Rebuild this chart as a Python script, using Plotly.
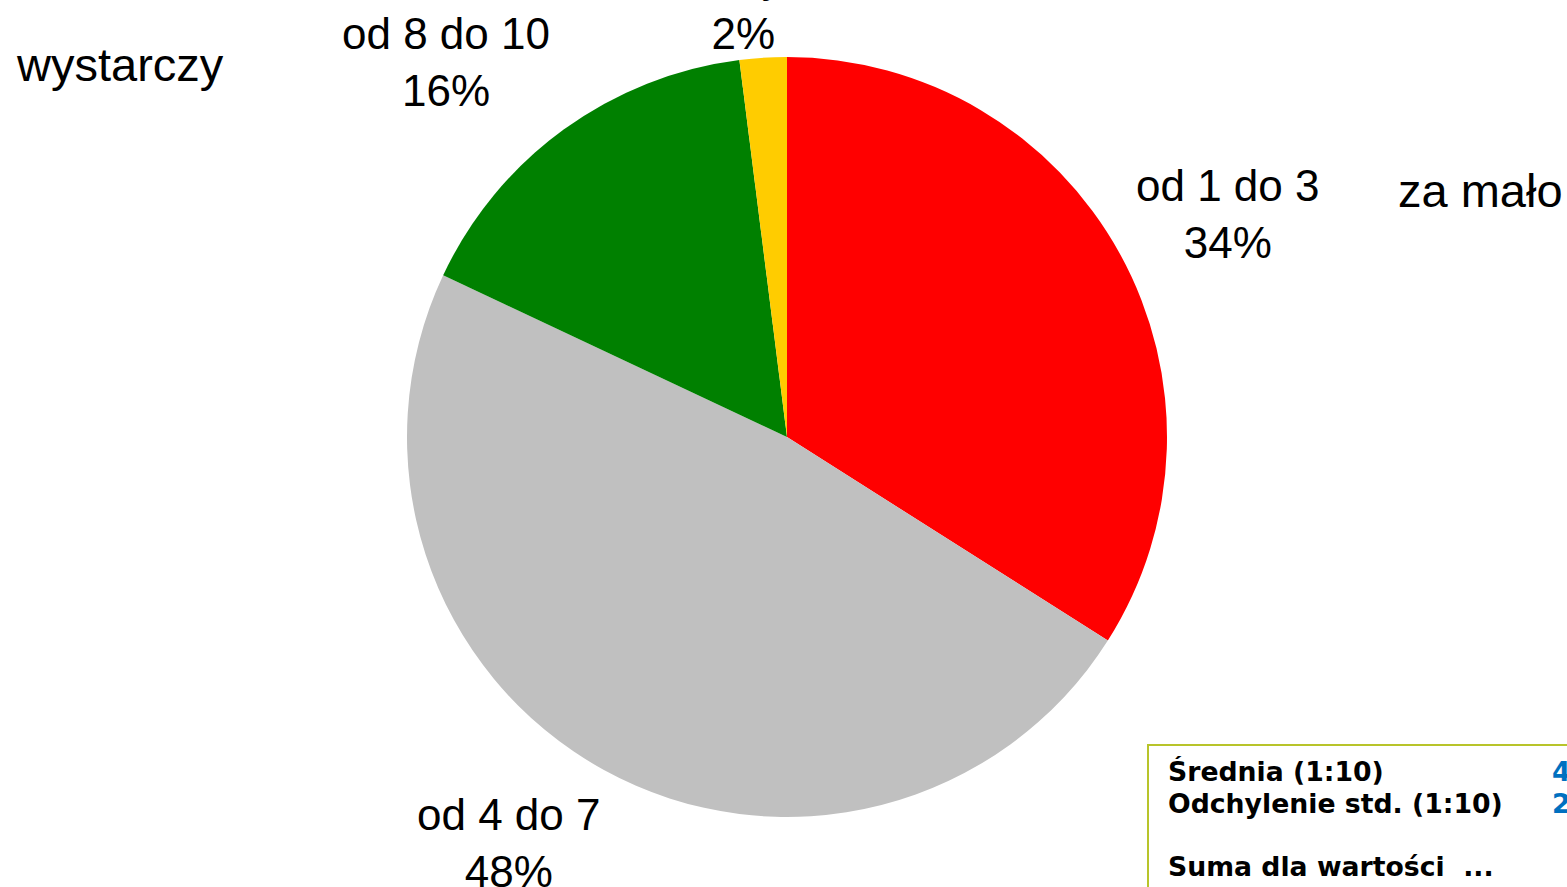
import math
import plotly.graph_objects as go

# ---- data ----
categories = ["od 1 do 3", "od 4 do 7", "od 8 do 10", "inny"]
values = [34, 48, 16, 2]
colors = ["#ff0000", "#c0c0c0", "#008000", "#ffcc00"]
stat_labels = ["Średnia (1:10)", "Odchylenie std. (1:10)", "Suma dla wartości  ..."]
stat_values = ["4,5", "2,1", ""]
side_left = "wystarczy"
side_right = "za mało"

# ---- layout constants ----
W, H = 1567, 887
CX, CY, R = 787, 437, 380

def px(x):
    return x / W

def py(y):
    return 1 - y / H

fig = go.Figure(go.Pie(
    labels=categories, values=values, sort=False, direction="clockwise",
    rotation=0, marker=dict(colors=colors, line=dict(width=0)),
    textinfo="none", hoverinfo="label+percent", showlegend=False,
    domain=dict(x=[px(CX - R), px(CX + R)], y=[py(CY + R), py(CY - R)]),
))

annotations = []
total = sum(values)
cum = 0
label_font = dict(family="Liberation Sans, Arial, sans-serif", size=44, color="#000000")
for cat, v in zip(categories, values):
    mid = (cum + v / 2) / total * 2 * math.pi
    cum += v
    ux, uy = math.sin(mid), -math.cos(mid)
    ax, ay = CX + R * ux, CY + R * uy
    if abs(ux) < 0.2:
        xa, x = "center", ax - 20
    elif ux > 0:
        xa, x = "left", ax + 14
    else:
        gap = max(0.0, 100 * (abs(ux) - 0.47))
        xa, x = "right", ax - gap
    cy = max(ay + uy * 83, 5)
    pct = round(v / total * 100)
    annotations.append(dict(
        x=px(x), y=py(cy), xref="paper", yref="paper", xanchor=xa, yanchor="middle",
        text=f"{cat}<br>{pct}%", showarrow=False, align="center", font=label_font,
    ))

side_font = dict(family="Liberation Sans, Arial, sans-serif", size=47, color="#000000")
annotations.append(dict(x=px(14), y=py(64), xref="paper", yref="paper", xanchor="left",
                        yanchor="middle", text=side_left, showarrow=False, font=side_font))
annotations.append(dict(x=px(1396), y=py(190), xref="paper", yref="paper", xanchor="left",
                        yanchor="middle", text=side_right, showarrow=False, font=side_font))

box_font = dict(family="DejaVu Sans, Verdana, sans-serif", size=26.7, color="#000000")
val_font = dict(family="DejaVu Sans, Verdana, sans-serif", size=26.7, color="#0070c0")
for lab, val, yy in zip(stat_labels, stat_values, [771, 803, 866]):
    annotations.append(dict(x=px(1166), y=py(yy), xref="paper", yref="paper", xanchor="left",
                            yanchor="middle", text=f"<b>{lab}</b>", showarrow=False, font=box_font))
    if val:
        annotations.append(dict(x=px(1550), y=py(yy), xref="paper", yref="paper", xanchor="left",
                                yanchor="middle", text=f"<b>{val}</b>", showarrow=False, font=val_font))

shapes = [dict(type="rect", xref="paper", yref="paper", x0=px(1148), x1=px(1600),
               y0=py(920), y1=py(745), line=dict(color="#b8c42a", width=2),
               fillcolor="rgba(0,0,0,0)")]

fig.update_layout(
    width=W, height=H, margin=dict(l=0, r=0, t=0, b=0),
    paper_bgcolor="#ffffff", plot_bgcolor="#ffffff",
    annotations=annotations, shapes=shapes,
)

fig.write_html(
    "out.html", config={"displayModeBar": False},
    post_script="document.body.style.margin='0px';document.body.style.overflow='hidden';",
)
